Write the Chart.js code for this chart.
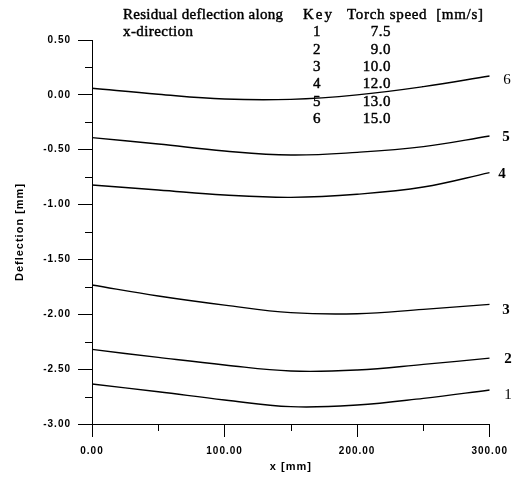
<!DOCTYPE html>
<html><head><meta charset="utf-8">
<script src="https://cdn.jsdelivr.net/npm/chart.js@4.4.0/dist/chart.umd.min.js"></script>
<style>html,body{margin:0;padding:0;background:#fff;overflow:hidden}#wrap{width:516px;height:477px;position:relative}</style>
</head><body><div id="wrap"><canvas id="c" width="516" height="477"></canvas></div>
<script>
// ---- data ----
const xValues = [0, 50, 100, 150, 200, 250, 300];
const curve1 = [-2.636, -2.706, -2.781, -2.842, -2.827, -2.766, -2.690];
const curve2 = [-2.320, -2.393, -2.462, -2.517, -2.508, -2.457, -2.400];
const curve3 = [-1.733, -1.833, -1.916, -1.985, -1.995, -1.955, -1.910];
const curve4 = [-0.822, -0.867, -0.913, -0.934, -0.906, -0.840, -0.709];
const curve5 = [-0.390, -0.448, -0.512, -0.548, -0.524, -0.472, -0.375];
const curve6 = [0.060, 0.005, -0.038, -0.041, 0.000, 0.075, 0.172];
const curveKeys = ['1', '2', '3', '4', '5', '6'];
const torchSpeeds = ['7.5', '9.0', '10.0', '12.0', '13.0', '15.0'];
const xTicks = [0, 100, 200, 300];
const xMinorTicks = [50, 150, 250];
const yTicks = [0.5, 0, -0.5, -1, -1.5, -2, -2.5, -3];
const yMinorTicks = [0.25, -0.25, -0.75, -1.25, -1.75, -2.25, -2.75];
const titleLines = ['Residual deflection along', 'x-direction'];
const keyHeader = 'Key';
const speedHeader = 'Torch speed  [mm/s]';
const xTitle = 'x [mm]';
const yTitle = 'Deflection [mm]';

const curves = [curve1, curve2, curve3, curve4, curve5, curve6];
const INK = '#000';
const SANS = '"Liberation Sans", Arial, sans-serif';
const SERIF = '"Liberation Serif", "Times New Roman", serif';

function inkText(ctx, text, x, y) {
  ctx.fillText(text, x, y);
  ctx.strokeText(text, x, y);
}

function drawFit(ctx, text, x, y, width) {
  ctx.letterSpacing = '0px';
  const w = ctx.measureText(text).width;
  const n = Math.max(1, text.length - 1);
  const sp = Math.max(0, (width - w) / n);
  ctx.letterSpacing = sp.toFixed(2) + 'px';
  ctx.textAlign = 'left';
  inkText(ctx, text, x, y);
  ctx.letterSpacing = '0px';
}

const spacingPlugin = {
  id: 'spacing',
  beforeUpdate(chart) { chart.ctx.letterSpacing = '1px'; },
  beforeDraw(chart) { chart.ctx.letterSpacing = '1px'; }
};

const decorPlugin = {
  id: 'decor',
  afterDraw(chart) {
    const ctx = chart.ctx;
    const xs = chart.scales.x, ys = chart.scales.y;
    ctx.save();
    ctx.strokeStyle = INK;
    ctx.lineWidth = 1;
    // minor ticks
    ctx.beginPath();
    yMinorTicks.forEach(v => {
      const py = Math.round(ys.getPixelForValue(v)) + 0.5;
      ctx.moveTo(xs.left - 7, py); ctx.lineTo(xs.left, py);
    });
    xMinorTicks.forEach(v => {
      const px = Math.round(xs.getPixelForValue(v)) + 0.5;
      ctx.moveTo(px, ys.bottom); ctx.lineTo(px, ys.bottom + 7);
    });
    ctx.stroke();

    ctx.fillStyle = INK;
    ctx.lineWidth = 0.45;
    ctx.lineJoin = 'round';
    ctx.textBaseline = 'middle';
    ctx.font = '15px ' + SERIF;
    // title block
    drawFit(ctx, titleLines[0], 123, 15, 160);
    drawFit(ctx, titleLines[1], 123, 32, 70);
    drawFit(ctx, keyHeader, 303, 15, 29);
    drawFit(ctx, speedHeader, 347, 15, 136);
    // key rows
    ctx.letterSpacing = '0.5px';
    curveKeys.forEach((k, i) => {
      const y = 32.5 + i * 17.3;
      ctx.textAlign = 'center';
      inkText(ctx, k, 317, y);
      ctx.textAlign = 'right';
      inkText(ctx, torchSpeeds[i], 391, y);
    });
    // curve end labels
    ctx.letterSpacing = '0px';
    ctx.textAlign = 'center';
    const lblX = [508, 508, 506, 502, 506, 507];
    const lblDy = [5, 1, 6, 1, 1, 4];
    const lblBold = [false, true, true, true, true, false];
    curves.forEach((c, i) => {
      ctx.font = (lblBold[i] ? 'bold ' : '') + '15px ' + SERIF;
      const py = ys.getPixelForValue(c[c.length - 1]);
      ctx.fillText(curveKeys[i], lblX[i], py + lblDy[i]);
    });
    ctx.restore();
  }
};

new Chart(document.getElementById('c'), {
  type: 'line',
  data: {
    datasets: curves.map((arr, i) => ({
      label: curveKeys[i],
      data: xValues.map((x, j) => ({ x: x, y: arr[j] })),
      borderColor: INK,
      borderWidth: 1.4,
      pointRadius: 0,
      tension: 0.4,
      fill: false
    }))
  },
  options: {
    responsive: false,
    animation: false,
    events: [],
    layout: { padding: { left: 0, right: 25, top: 40, bottom: 0 } },
    plugins: { legend: { display: false }, tooltip: { enabled: false } },
    scales: {
      x: {
        type: 'linear', min: 0, max: 300,
        afterBuildTicks: s => { s.ticks = xTicks.map(v => ({ value: v })); },
        ticks: { callback: v => Number(v).toFixed(2), color: INK, padding: 8, maxRotation: 0, autoSkip: false,
                 font: { family: SANS, weight: 'bold', size: 10 } },
        grid: { drawOnChartArea: false, tickLength: 13, color: INK, tickWidth: 1 },
        border: { color: INK, width: 1 },
        title: { display: true, text: xTitle, color: INK, padding: { top: 0, bottom: 3 },
                 font: { family: SANS, weight: 'bold', size: 11 } },
        afterFit: s => { s.height = 53; }
      },
      y: {
        type: 'linear', min: -3, max: 0.5,
        afterBuildTicks: s => { s.ticks = yTicks.map(v => ({ value: v })); },
        ticks: { callback: v => Number(v).toFixed(2), color: INK, padding: 7, autoSkip: false,
                 font: { family: SANS, weight: 'bold', size: 10 } },
        grid: { drawOnChartArea: false, tickLength: 14, color: INK, tickWidth: 1 },
        border: { color: INK, width: 1 },
        title: { display: true, text: yTitle, color: INK, padding: { top: 13, bottom: 0 },
                 font: { family: SANS, weight: 'bold', size: 11 } },
        afterFit: s => { s.width = 92; }
      }
    }
  },
  plugins: [spacingPlugin, decorPlugin]
});
</script></body></html>
